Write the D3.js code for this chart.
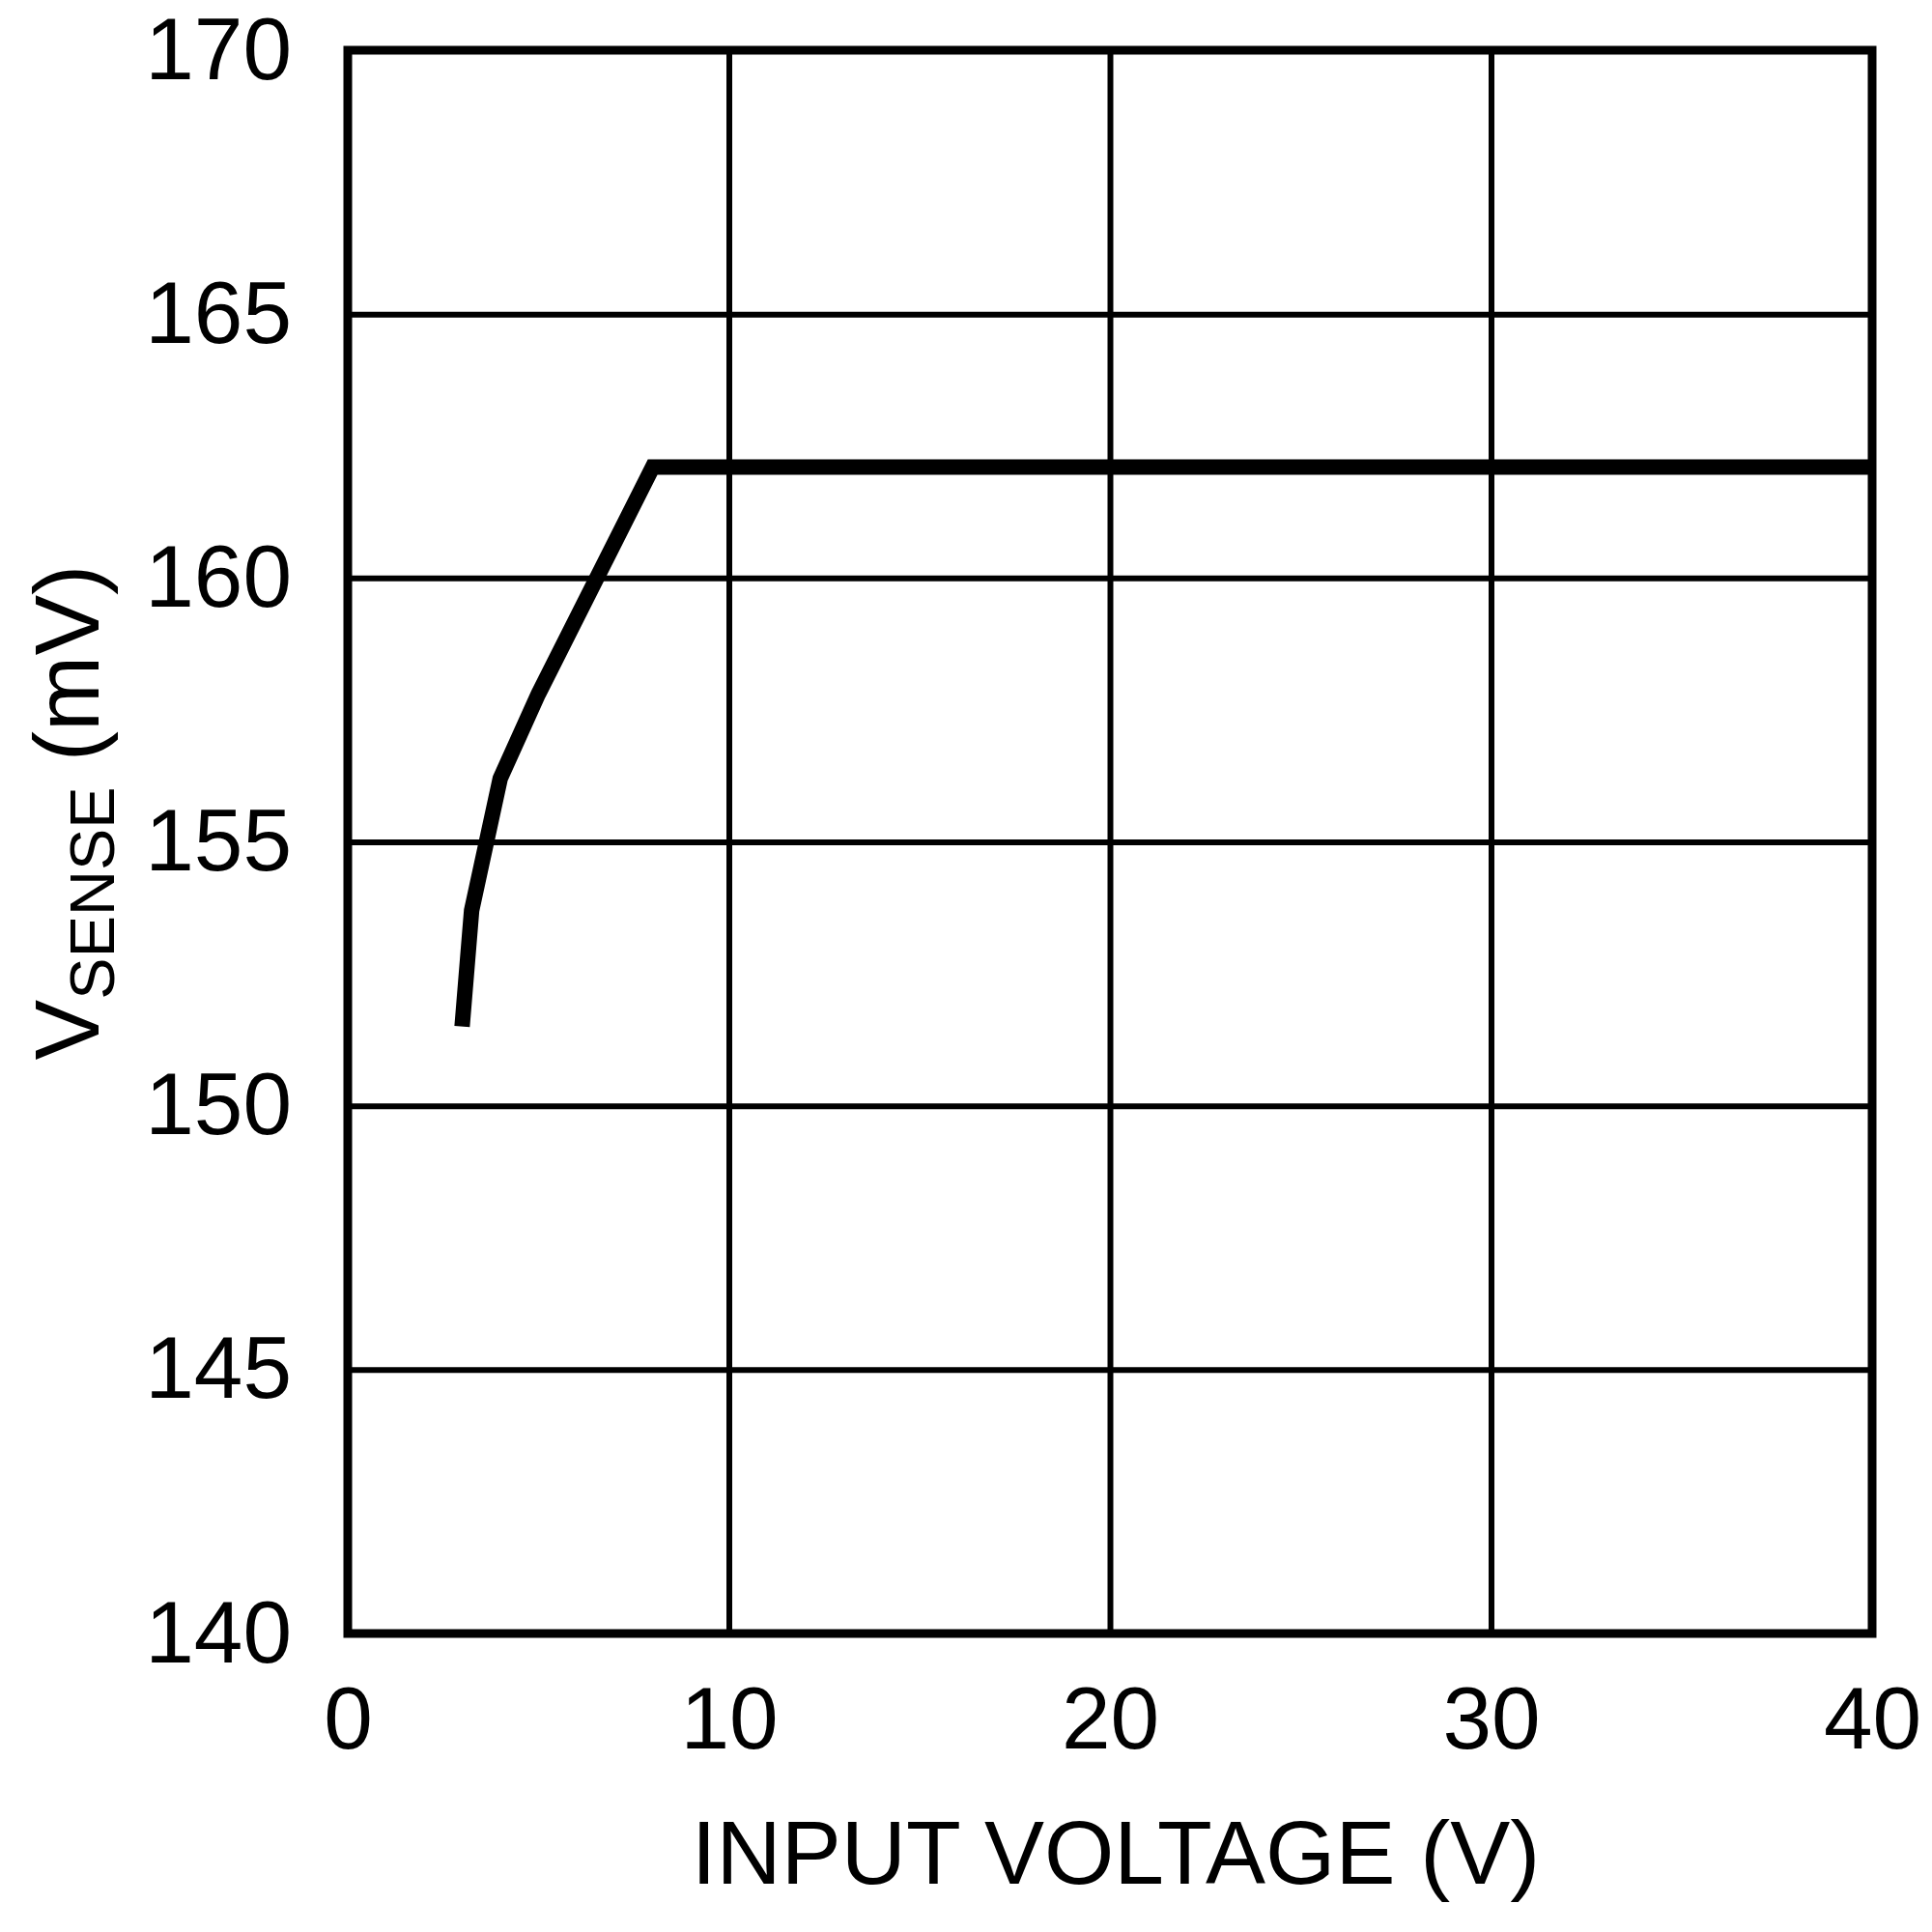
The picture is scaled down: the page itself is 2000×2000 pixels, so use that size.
<!DOCTYPE html>
<html>
<head>
<meta charset="utf-8">
<script src="https://cdn.jsdelivr.net/npm/d3@7"></script>
<style>
  body { margin: 0; background: #fff; }
  text { font-family: "Liberation Sans", Arial, sans-serif; fill: #000; }
</style>
</head>
<body>
<div id="chart"></div>
<script>
// data
var inputVoltage = [3, 3.25, 4, 5, 8, 40];
var vSense = [151.5, 153.7, 156.2, 157.8, 162.1, 162.1];
var xTicks = [0, 10, 20, 30, 40];
var yTicks = [140, 145, 150, 155, 160, 165, 170];

const width = 2000,
    height = 2000,
    margin = {left: 360, top: 52, right: 62, bottom: 309};
const w = width - margin.left - margin.right,
    h = height - margin.top - margin.bottom;

const svg = d3.select('#chart').append('svg')
    .attr('width', width)
    .attr('height', height);

const g = svg.append('g')
    .attr('transform', 'translate(' + margin.left + ',' + margin.top + ')');

const x = d3.scaleLinear().domain([0, 40]).range([0, w]);
const y = d3.scaleLinear().domain([140, 170]).range([h, 0]);

// grid + tick labels
const xAxis = g.append('g')
    .attr('transform', 'translate(0,' + h + ')')
    .call(d3.axisBottom(x).tickValues(xTicks).tickSize(-h).tickPadding(54));
const yAxis = g.append('g')
    .call(d3.axisLeft(y).tickValues(yTicks).tickSize(-w).tickPadding(58));

[xAxis, yAxis].forEach(function(a) {
    a.select('.domain').remove();
    a.selectAll('line').attr('stroke', '#000').attr('stroke-width', 6);
    a.selectAll('text')
        .style('font-family', '"Liberation Sans", Arial, sans-serif')
        .style('font-size', '91px')
        .attr('fill', '#000');
});

// frame
g.append('rect')
    .attr('x', 0).attr('y', 0)
    .attr('width', w).attr('height', h)
    .attr('fill', 'none')
    .attr('stroke', '#000')
    .attr('stroke-width', 9);

// curve
const line = d3.line()
    .x(function(d, i) { return x(inputVoltage[i]); })
    .y(function(d) { return y(d); });

g.append('path')
    .datum(vSense)
    .attr('d', line)
    .attr('fill', 'none')
    .attr('stroke', '#000')
    .attr('stroke-width', 16)
    .attr('stroke-linejoin', 'miter')
    .attr('stroke-linecap', 'butt');

// axis titles
svg.append('text')
    .attr('x', 1155)
    .attr('y', 1950)
    .attr('text-anchor', 'middle')
    .style('font-size', '93px')
    .text('INPUT VOLTAGE (V)');

const yt = svg.append('text')
    .attr('transform', 'translate(102,841) rotate(-90)')
    .attr('text-anchor', 'middle')
    .style('font-size', '94px');
yt.append('tspan').text('V');
yt.append('tspan').attr('dy', 16).style('font-size', '65px').text('SENSE');
yt.append('tspan').attr('dy', -16).text(' (mV)');
</script>
</body>
</html>
